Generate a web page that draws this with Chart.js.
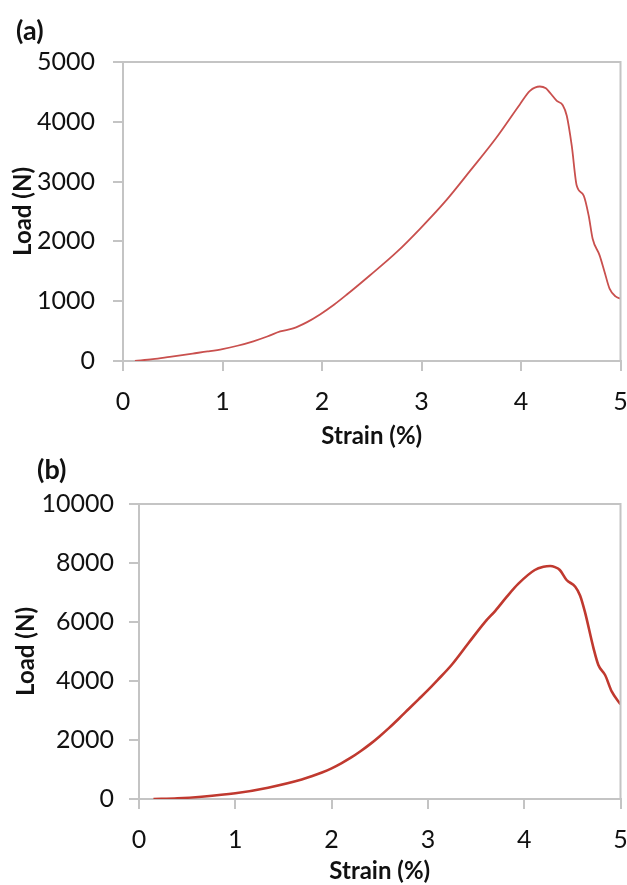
<!DOCTYPE html>
<html>
<head>
<meta charset="utf-8">
<script src="https://cdn.jsdelivr.net/npm/chart.js@4"></script>
<style>
  html, body { margin: 0; padding: 0; background: #ffffff; }
  body { width: 627px; height: 885px; position: relative; overflow: hidden; font-family: Lato, sans-serif; }
  .wrap { position: absolute; left: 0; width: 627px; }
  .panel-label { position: absolute; font-family: Lato, sans-serif; font-weight: bold; font-size: 27px; line-height: 27px; color: #111; }
</style>
</head>
<body>
<div class="wrap" style="top:0;height:450px;"><canvas id="chartA" width="627" height="450"></canvas></div>
<div class="wrap" style="top:450px;height:435px;"><canvas id="chartB" width="627" height="435"></canvas></div>
<div class="panel-label" style="left:16px;top:16px;">(a)</div>
<div class="panel-label" style="left:37px;top:455px;">(b)</div>
<script>
// ---- Data ----
const strainA = [0.12, 0.30, 0.47, 0.70, 0.85, 1.0, 1.15, 1.31, 1.45, 1.58, 1.71, 1.85, 1.98, 2.12, 2.25, 2.48, 2.75, 2.985, 3.25, 3.49, 3.75, 3.99, 4.09, 4.19, 4.25, 4.29, 4.36, 4.42, 4.46, 4.51, 4.56, 4.63, 4.68, 4.72, 4.79, 4.84, 4.89, 4.95, 5.0];
const loadA   = [0, 30, 70, 125, 160, 200, 255, 330, 410, 495, 545, 650, 778, 940, 1111, 1430, 1820, 2211, 2690, 3183, 3730, 4295, 4517, 4590, 4560, 4489, 4350, 4278, 4100, 3600, 2933, 2767, 2433, 2044, 1767, 1489, 1211, 1080, 1044];

const strainB = [0.15, 0.40, 0.65, 1.0, 1.34, 1.69, 1.8, 1.9, 2.0, 2.1, 2.2, 2.3, 2.4, 2.5, 2.6, 2.7, 2.8, 2.9, 3.0, 3.1, 3.25, 3.42, 3.59, 3.70, 3.82, 3.94, 4.11, 4.20, 4.27, 4.32, 4.37, 4.44, 4.53, 4.58, 4.63, 4.72, 4.77, 4.84, 4.91, 5.0];
const loadB   = [0, 25, 78, 193, 384, 660, 780, 900, 1040, 1210, 1400, 1620, 1860, 2130, 2420, 2730, 3050, 3370, 3690, 4030, 4560, 5280, 5990, 6380, 6860, 7300, 7763, 7870, 7898, 7860, 7763, 7424, 7197, 6900, 6350, 5108, 4542, 4203, 3637, 3210];

const xTicks = [0, 1, 2, 3, 4, 5];
const yTicksA = [0, 1000, 2000, 3000, 4000, 5000];
const yTicksB = [0, 2000, 4000, 6000, 8000, 10000];

const xTitle = 'Strain (%)';
const yTitle = 'Load (N)';

// ---- Styling ----
const AXIS_COLOR = '#c4c4c4';
const TICK_FONT = { family: 'Lato', size: 25 };
const TITLE_FONT = { family: 'Lato', size: 24, weight: 'bold', lineHeight: 1.15 };

const framePlugin = {
  id: 'frame',
  afterDraw(chart) {
    const a = chart.chartArea, ctx = chart.ctx;
    ctx.save();
    ctx.strokeStyle = AXIS_COLOR;
    ctx.lineWidth = 2;
    ctx.beginPath();
    ctx.moveTo(a.left, a.top);
    ctx.lineTo(a.right, a.top);
    ctx.lineTo(a.right, a.bottom);
    ctx.stroke();
    ctx.restore();
  }
};

function makeChart(id, xs, ys, yTicks, cfg) {
  const pts = xs.map((x, i) => ({ x: x, y: ys[i] }));
  return new Chart(document.getElementById(id), {
    type: 'line',
    data: { datasets: [{
      data: pts,
      borderColor: cfg.color,
      borderWidth: cfg.lineWidth,
      pointRadius: 0,
      fill: false,
      cubicInterpolationMode: 'monotone'
    }] },
    options: {
      responsive: false,
      animation: false,
      devicePixelRatio: 1,
      layout: { padding: { left: cfg.left, top: cfg.top, right: 6.5, bottom: 0 } },
      plugins: { legend: { display: false }, tooltip: { enabled: false } },
      scales: {
        x: {
          type: 'linear', min: 0, max: 5,
          afterBuildTicks: s => { s.ticks = xTicks.map(v => ({ value: v })); },
          afterFit: s => { s.height = cfg.xHeight; s.paddingLeft = 0; s.paddingRight = 0; },
          ticks: { font: TICK_FONT, color: '#111', padding: cfg.xPad, maxRotation: 0, callback: v => String(v) },
          grid: { drawOnChartArea: false, drawTicks: true, tickLength: 10, color: AXIS_COLOR, lineWidth: 2 },
          border: { display: true, color: AXIS_COLOR, width: 2 },
          title: { display: true, text: xTitle, font: TITLE_FONT, color: '#111', padding: 0 }
        },
        y: {
          type: 'linear', min: yTicks[0], max: yTicks[yTicks.length - 1],
          afterBuildTicks: s => { s.ticks = yTicks.map(v => ({ value: v })); },
          afterFit: s => { s.width = cfg.yWidth; s.paddingTop = 0; s.paddingBottom = 0; },
          ticks: { font: TICK_FONT, color: '#111', padding: cfg.yPad, callback: v => String(v) },
          grid: { drawOnChartArea: false, drawTicks: true, tickLength: 10, color: AXIS_COLOR, lineWidth: 2 },
          border: { display: true, color: AXIS_COLOR, width: 2 },
          title: { display: true, text: yTitle, font: TITLE_FONT, color: '#111', padding: 0 }
        }
      }
    },
    plugins: [framePlugin]
  });
}

makeChart('chartA', strainA, loadA, yTicksA, {
  color: '#c9504e', lineWidth: 1.8, top: 62, left: 9, xHeight: 450 - 361, yWidth: 114, xPad: 16, yPad: 18
});
makeChart('chartB', strainB, loadB, yTicksB, {
  color: '#c0392f', lineWidth: 2.6, top: 54, left: 12, xHeight: 435 - 349, yWidth: 127, xPad: 16, yPad: 15
});
</script>
</body>
</html>
